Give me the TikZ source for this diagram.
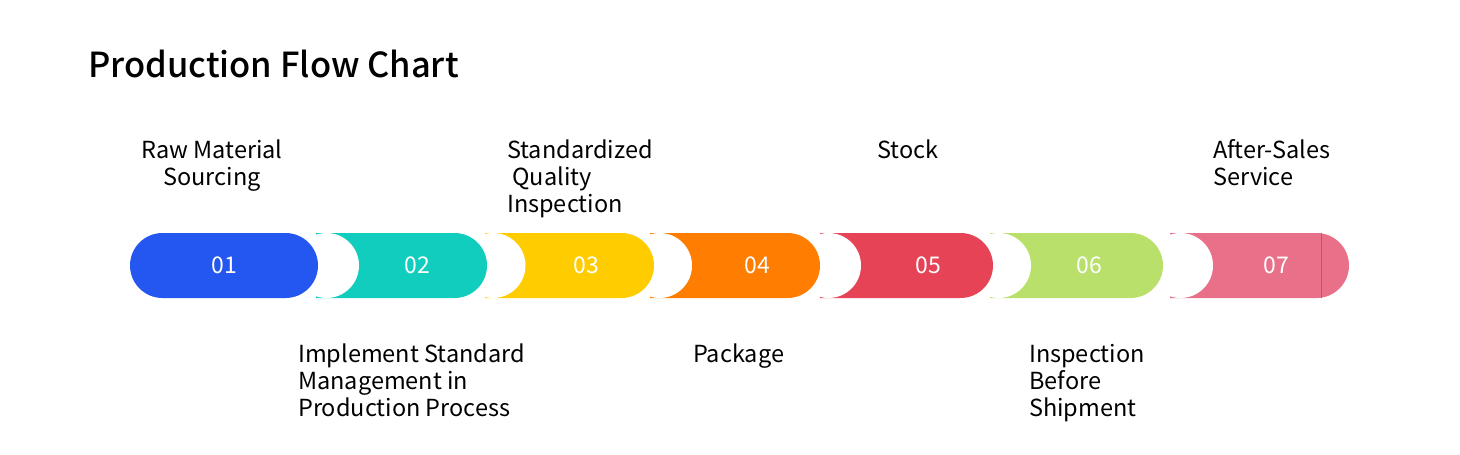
\documentclass[tikz,border=0pt]{standalone}
\usepackage{fontspec}
\setmainfont{Noto Sans CJK SC}
\IfFontExistsTF{Noto Sans CJK SC Medium}
  {\newfontfamily\titlefont{Noto Sans CJK SC Medium}}
  {\newfontfamily\titlefont{Noto Sans CJK SC}[FakeBold=1.2]}
\usepackage{xcolor}
\usepackage{tikz}
\usetikzlibrary{positioning}
\definecolor{stepblue}{RGB}{36, 87, 240}
\definecolor{stepteal}{RGB}{17, 205, 189}
\definecolor{stepyellow}{RGB}{255, 204, 0}
\definecolor{steporange}{RGB}{255, 125, 0}
\definecolor{stepred}{RGB}{230, 67, 87}
\definecolor{stepgreen}{RGB}{186, 224, 108}
\definecolor{steppink}{RGB}{232, 112, 136}
\definecolor{steppinkline}{RGB}{214, 72, 108}
% one segment: left edge, right edge, colour (rounded right end)
\newcommand{\flowseg}[3]{\fill[#3] (#1,233) -- ({#2-32.5},233) arc[start angle=-90, end angle=90, radius=32.5] -- (#1,298) -- cycle;}
% white bite on the left of a segment
\newcommand{\flowbite}[1]{\fill[white] (#1,265.5) circle[radius=32.5];}

\begin{document}
\begin{tikzpicture}[x=1pt, y=-1pt,
    numlabel/.style={text=white, font=\fontsize{23}{23}\selectfont, anchor=base},
    steptext/.style={font=\fontsize{23.5}{27}\selectfont, anchor=north west, align=left, inner sep=0pt}]
        \useasboundingbox (0,0) rectangle (1460,455);

        % Title
        \node[font=\titlefont\fontsize{34.5}{34.5}\selectfont, anchor=base west, inner sep=0pt] (title) at (88,77) {Production Flow Chart};

        % Segments, right to left
        \flowseg{1170}{1349}{steppink}
        \draw[steppinkline, line width=0.8pt] (1321,233) -- (1321,298);
        \flowbite{1180.5}
        \flowseg{990}{1163}{stepgreen}
        \flowbite{998.5}
        \flowseg{820}{993}{stepred}
        \flowbite{828.5}
        \flowseg{650}{820}{steporange}
        \flowbite{659.5}
        \flowseg{485}{654}{stepyellow}
        \flowbite{493}
        \flowseg{316}{487}{stepteal}
        \flowbite{326.5}
        \fill[stepblue] (162.5,233) -- (285.5,233) arc[start angle=-90, end angle=90, radius=32.5] -- (162.5,298) arc[start angle=90, end angle=270, radius=32.5] -- cycle;

        % Step numbers
        \node[numlabel] (n1) at (224,273) {01};
        \node[numlabel] (n2) at (417,273) {02};
        \node[numlabel] (n3) at (586,273) {03};
        \node[numlabel] (n4) at (757,273) {04};
        \node[numlabel] (n5) at (928,273) {05};
        \node[numlabel] (n6) at (1089,273) {06};
        \node[numlabel] (n7) at (1276,273) {07};

        % Labels above
        \node[steptext, anchor=north, align=center] (sourcing) at (212,139.5) {Raw Material\\Sourcing};
        \node[steptext] (quality) at (507,139.5) {Standardized\\\ Quality\\Inspection};
        \node[steptext] (stock) at (877,139.5) {Stock};
        \node[steptext] (service) at (1213,139.5) {After-Sales\\Service};

        % Labels below
        \node[steptext] (production) at (298,344) {Implement Standard\\Management in\\Production Process};
        \node[steptext] (package) at (693,344) {Package};
        \node[steptext] (shipment) at (1029,344) {Inspection\\Before\\Shipment};
    \end{tikzpicture}
\end{document}
